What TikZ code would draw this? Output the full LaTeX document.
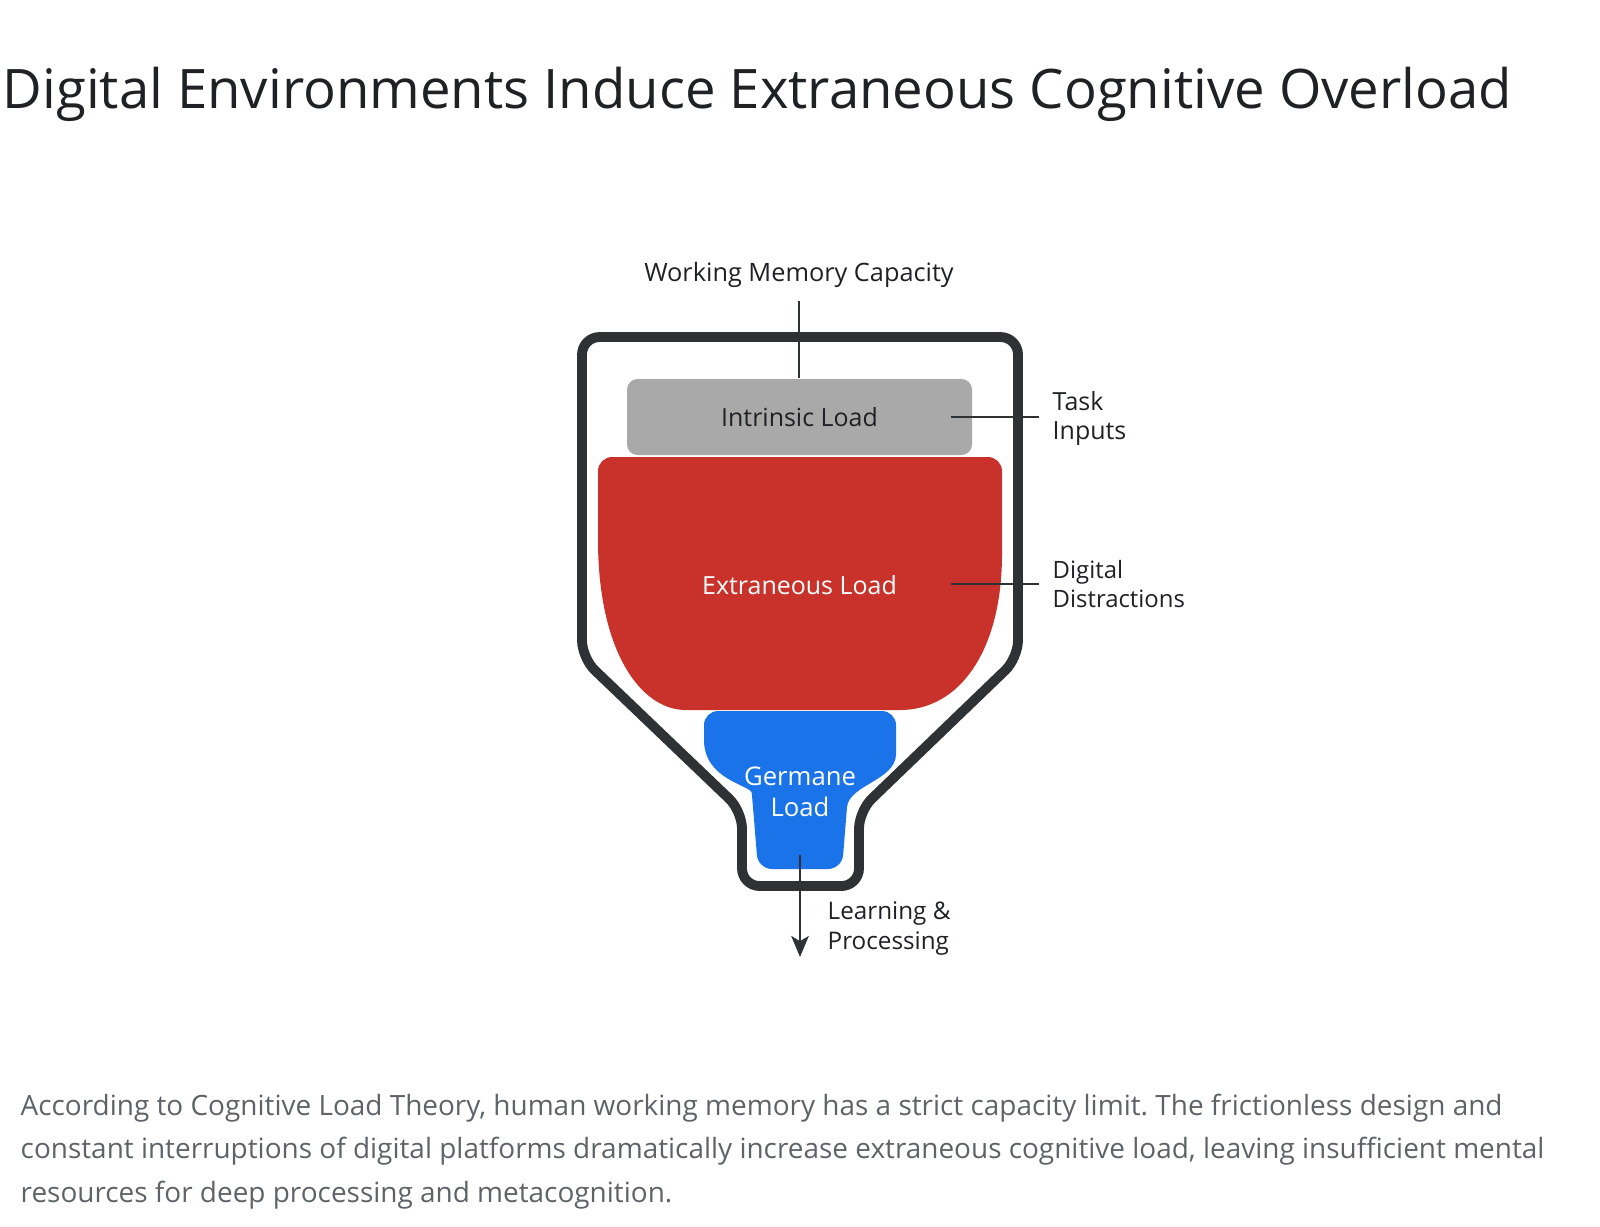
\documentclass[tikz,border=0pt]{standalone}
\usepackage{fontspec}
\setmainfont{Open Sans}
\usetikzlibrary{positioning, arrows.meta, calc}

\definecolor{titleink}{HTML}{202124}
\definecolor{captionink}{HTML}{5F6368}
\definecolor{wallgray}{HTML}{2F3235}
\definecolor{intrinsicgray}{HTML}{A9A9A9}
\definecolor{extraneousred}{HTML}{C9322A}
\definecolor{germaneblue}{HTML}{1A73E8}

\begin{document}
\frenchspacing
\begin{tikzpicture}[
    wall/.style = {draw=wallgray, line width=2.8pt, line join=round, rounded corners=5pt},
    lead/.style = {draw=wallgray, line width=0.6pt},
    label_font/.style = {font=\fontsize{7.1}{8.3}\selectfont, text=titleink, inner sep=0pt},
    side_label/.style = {label_font, anchor=west, align=left},
    load_text/.style = {font=\fontsize{7.1}{8.6}\selectfont, inner sep=0pt, align=center},
    intrinsic_box/.style = {load_text, fill=intrinsicgray, rounded corners=3pt, minimum width=3.45cm, minimum height=0.76cm, text=titleink}
]
\useasboundingbox (0,0) rectangle (16,-12.26);

% --- Title ---
\node[anchor=west, inner sep=0pt, text=titleink, font=\fontsize{15.5}{19}\selectfont] (title) at (0.02,-0.94) {Digital Environments Induce Extraneous Cognitive Overload};

% --- Container (Working Memory) ---
\draw[wall] (5.82,-3.37) -- (10.18,-3.37) -- (10.18,-6.58) -- (8.59,-8.11) -- (8.59,-8.86) -- (7.42,-8.86) -- (7.42,-8.11) -- (5.82,-6.58) -- cycle;

% --- Loads ---
\node[intrinsic_box] (intrinsic) at (7.995,-4.17) {Intrinsic Load};

\fill[extraneousred, rounded corners=4pt] (5.98,-5.40) -- (5.98,-4.57) -- (10.02,-4.57) -- (10.02,-5.40) [sharp corners] .. controls (10.02,-6.50) and (9.60,-7.10) .. (9.00,-7.10) [rounded corners=4pt] -- (7.00,-7.10) [sharp corners] .. controls (6.40,-7.10) and (5.98,-6.50) .. (5.98,-5.40) -- cycle;
\node[load_text, text=white] (extraneous) at (7.995,-5.85) {Extraneous Load};

\fill[germaneblue, rounded corners=4pt] (7.04,-7.40) -- (7.04,-7.11) -- (8.96,-7.11) -- (8.96,-7.40) [sharp corners] .. controls (8.96,-7.80) and (8.49,-7.85) .. (8.47,-8.07) [rounded corners=4pt] -- (8.42,-8.69) -- (7.58,-8.69) -- (7.53,-8.07) [sharp corners] .. controls (7.51,-7.85) and (7.04,-7.80) .. (7.04,-7.40) -- cycle;
\node[load_text, text=white, font=\fontsize{7.3}{8.7}\selectfont] (germane) at (8.00,-7.92) {Germane\\Load};

% --- Labels ---
\node[label_font, font=\fontsize{7.2}{8.3}\selectfont] (wm_label) at (7.99,-2.75) {Working Memory Capacity};
\node[side_label] (task_label) at (10.52,-4.185) {Task\\Inputs};
\node[side_label, font=\fontsize{6.8}{8.3}\selectfont] (distraction_label) at (10.52,-5.84) {Digital\\Distractions};
\node[side_label, font=\fontsize{6.9}{8.3}\selectfont] (learning_label) at (8.27,-9.285) {Learning \&\\Processing};

\coordinate (task_tip) at (9.51,-4.17);
\coordinate (distraction_tip) at (9.51,-5.84);
\coordinate (flow_start) at (8.00,-8.55);
\coordinate (flow_end) at (8.00,-9.57);

% --- Leader lines ---
\draw[lead] ([yshift=-0.13cm]wm_label.south) -- (wm_label.south |- intrinsic.north);
\draw[lead] (task_tip) -- ([xshift=-0.13cm]task_label.west |- task_tip);
\draw[lead] (distraction_tip) -- ([xshift=-0.13cm]distraction_label.west |- distraction_tip);
\draw[lead, -{Stealth[length=6pt, width=5pt, inset=1.5pt]}] (flow_start) -- (flow_end);

% --- Caption ---
\node[anchor=north west, align=left, inner sep=0pt, text=captionink, font=\fontsize{7.95}{12.4}\selectfont] (caption) at (0.20,-10.93) {According to Cognitive Load Theory, human working memory has a strict capacity limit. The frictionless design and\\constant interruptions of digital platforms dramatically increase extraneous cognitive load, leaving insufficient mental\\resources for deep processing and metacognition.};

\end{tikzpicture}
\end{document}
